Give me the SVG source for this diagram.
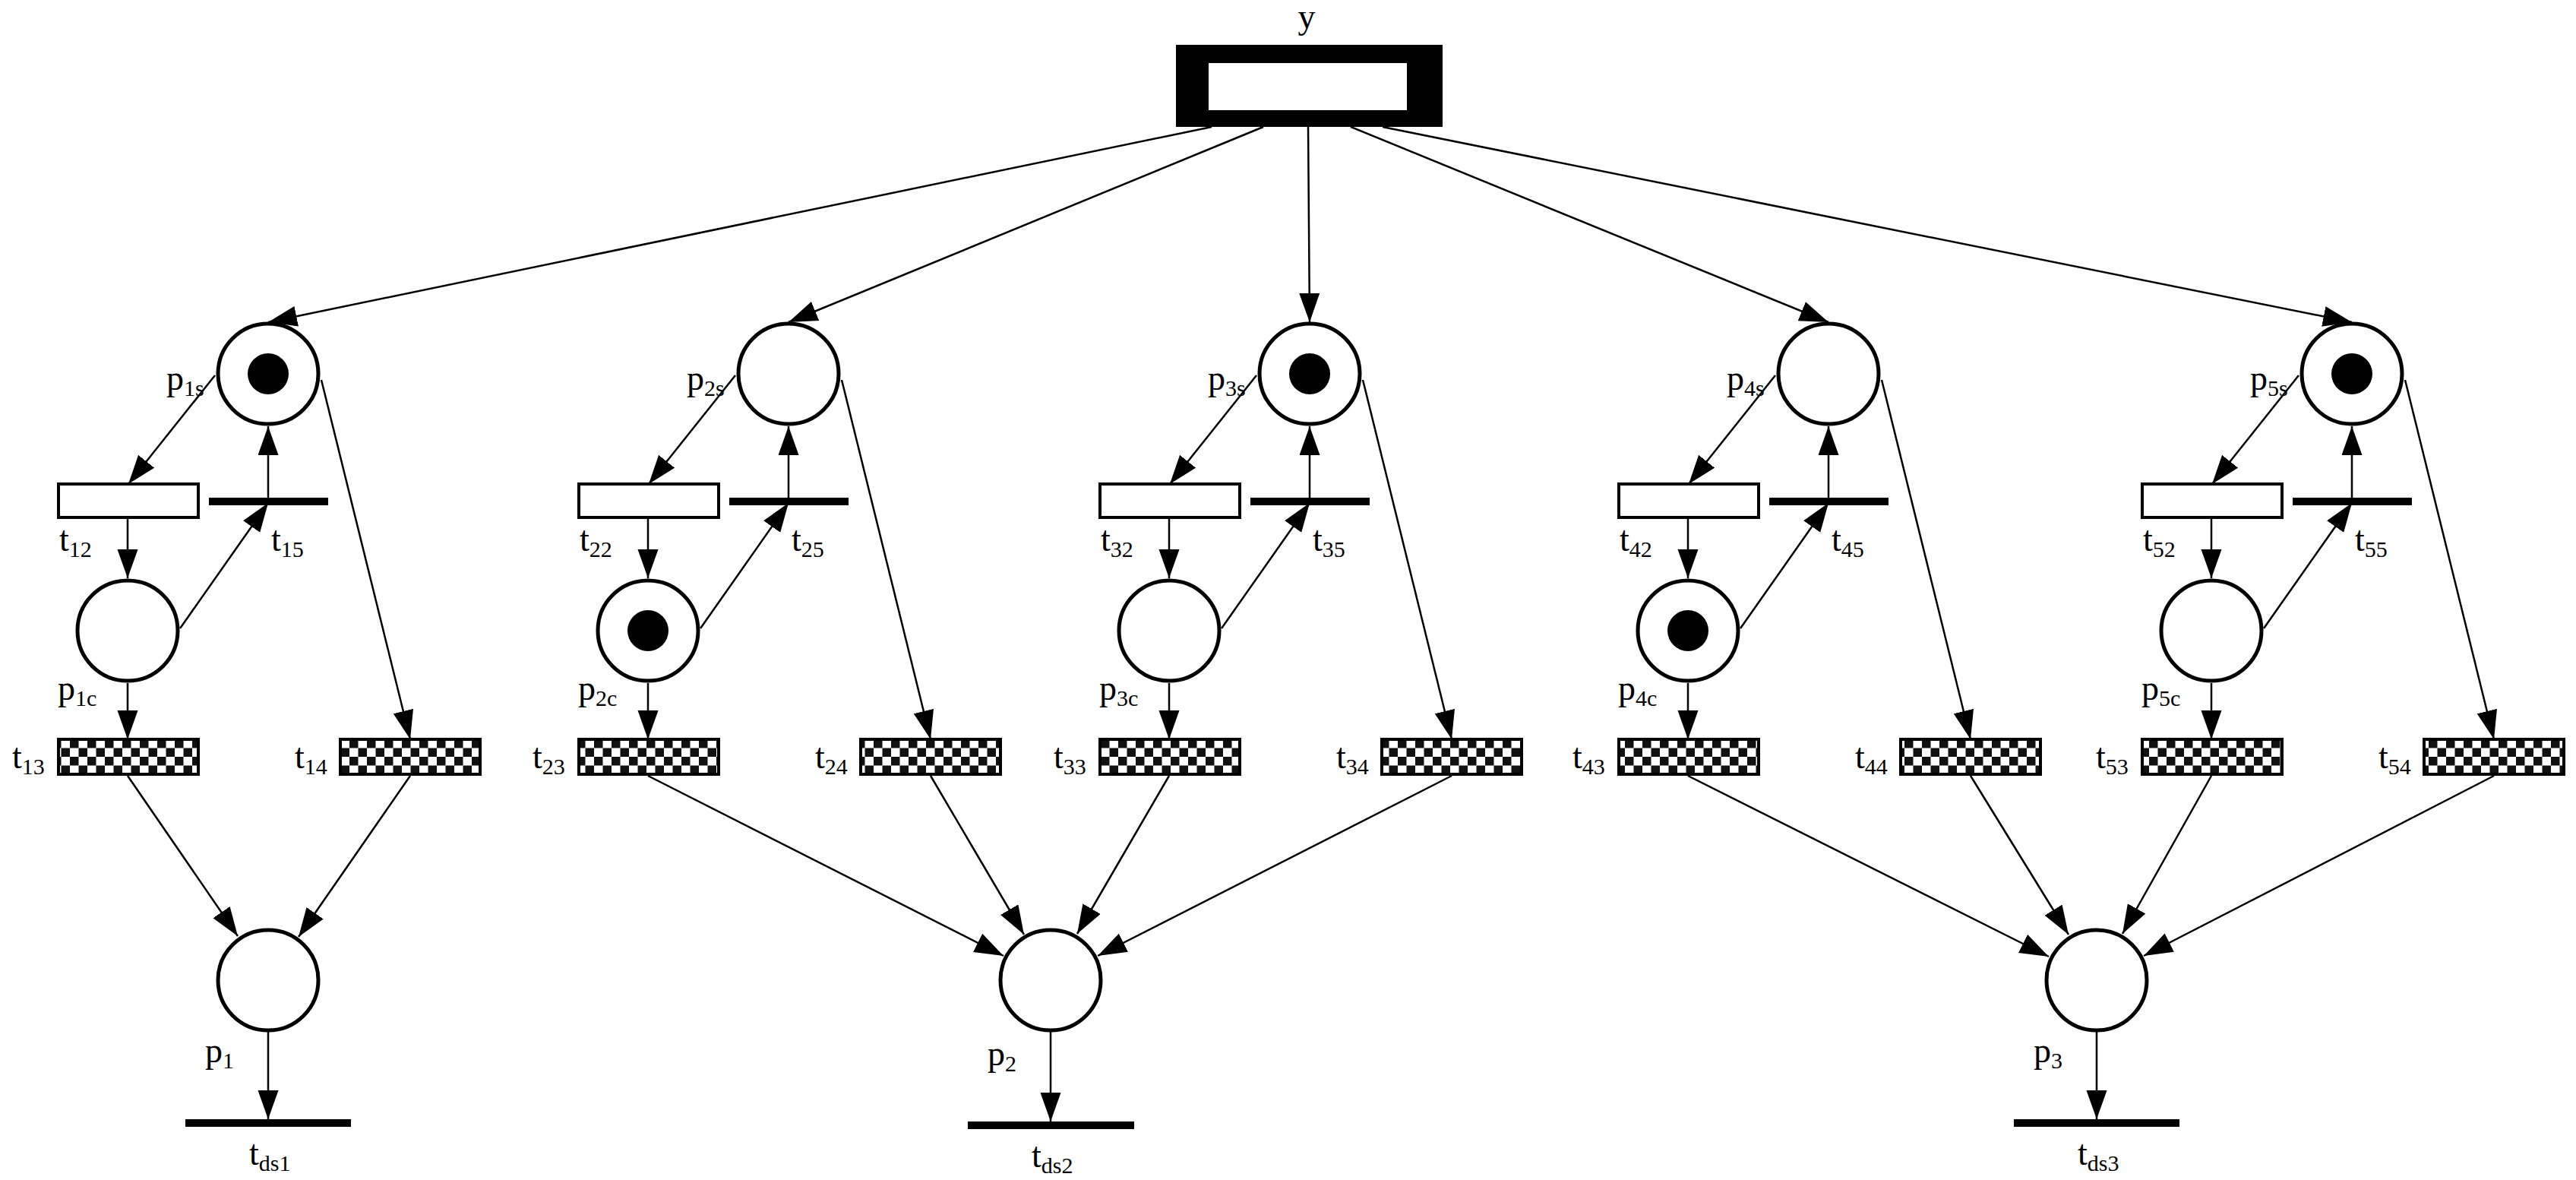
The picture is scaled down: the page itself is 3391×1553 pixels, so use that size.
<svg xmlns="http://www.w3.org/2000/svg" width="3391" height="1553" viewBox="0 0 3391 1553">
<style>
.pl{fill:#fff;stroke:#000;stroke-width:5}
.tk{fill:#000}
.tr{fill:#fff;stroke:#000;stroke-width:4}
.ck{fill:url(#chk);stroke:#000;stroke-width:4}
.bar{fill:#000}
.arc{stroke:#000;stroke-width:2.5;fill:none;marker-end:url(#ah)}
text{font-family:"Liberation Serif","Times New Roman",serif;font-size:46px;fill:#000}
.s{font-size:30px}
</style>
<defs>
<marker id="ah" markerUnits="userSpaceOnUse" markerWidth="40" markerHeight="28" refX="38" refY="13.5" orient="auto"><path d="M0,0 L38,13.5 L0,27 z" fill="#000"/></marker>
<pattern id="chk" patternUnits="userSpaceOnUse" width="23" height="23" x="0" y="973"><rect width="23" height="23" fill="#fff"/><rect width="11.5" height="11.5" fill="#111"/><rect x="11.5" y="11.5" width="11.5" height="11.5" fill="#111"/></pattern>
</defs>
<g id="connectors">
<line class="arc" x1="1595" y1="167" x2="353" y2="424"/>
<line class="arc" x1="1663" y1="167" x2="1038" y2="424"/>
<line class="arc" x1="1722" y1="167" x2="1724" y2="424"/>
<line class="arc" x1="1778" y1="167" x2="2407" y2="424"/>
<line class="arc" x1="1820" y1="167" x2="3096" y2="424"/>
<!-- column arcs -->
<line class="arc" x1="283" y1="494" x2="169" y2="637"/><line class="arc" x1="353" y1="657" x2="353" y2="561"/><line class="arc" x1="168" y1="681" x2="168" y2="761"/><line class="arc" x1="237" y1="827" x2="353" y2="662"/><line class="arc" x1="168" y1="899" x2="168" y2="973"/><line class="arc" x1="423" y1="500" x2="540" y2="973"/>
<line class="arc" x1="968" y1="494" x2="854" y2="637"/><line class="arc" x1="1038" y1="657" x2="1038" y2="561"/><line class="arc" x1="853" y1="681" x2="853" y2="761"/><line class="arc" x1="922" y1="827" x2="1038" y2="662"/><line class="arc" x1="853" y1="899" x2="853" y2="973"/><line class="arc" x1="1108" y1="500" x2="1225" y2="973"/>
<line class="arc" x1="1654" y1="494" x2="1540" y2="637"/><line class="arc" x1="1724" y1="657" x2="1724" y2="561"/><line class="arc" x1="1539" y1="681" x2="1539" y2="761"/><line class="arc" x1="1608" y1="827" x2="1724" y2="662"/><line class="arc" x1="1539" y1="899" x2="1539" y2="973"/><line class="arc" x1="1794" y1="500" x2="1911" y2="973"/>
<line class="arc" x1="2337" y1="494" x2="2223" y2="637"/><line class="arc" x1="2407" y1="657" x2="2407" y2="561"/><line class="arc" x1="2222" y1="681" x2="2222" y2="761"/><line class="arc" x1="2291" y1="827" x2="2407" y2="662"/><line class="arc" x1="2222" y1="899" x2="2222" y2="973"/><line class="arc" x1="2477" y1="500" x2="2594" y2="973"/>
<line class="arc" x1="3026" y1="494" x2="2912" y2="637"/><line class="arc" x1="3096" y1="657" x2="3096" y2="561"/><line class="arc" x1="2911" y1="681" x2="2911" y2="761"/><line class="arc" x1="2980" y1="827" x2="3096" y2="662"/><line class="arc" x1="2911" y1="899" x2="2911" y2="973"/><line class="arc" x1="3166" y1="500" x2="3283" y2="973"/>
<!-- to bottom places -->
<line class="arc" x1="168" y1="1021" x2="313" y2="1232"/>
<line class="arc" x1="540" y1="1021" x2="393" y2="1233"/>
<line class="arc" x1="853" y1="1021" x2="1321" y2="1258"/>
<line class="arc" x1="1225" y1="1021" x2="1348" y2="1230"/>
<line class="arc" x1="1539" y1="1021" x2="1418" y2="1229"/>
<line class="arc" x1="1911" y1="1021" x2="1445" y2="1258"/>
<line class="arc" x1="2222" y1="1021" x2="2697" y2="1259"/>
<line class="arc" x1="2594" y1="1021" x2="2723" y2="1230"/>
<line class="arc" x1="2911" y1="1021" x2="2794" y2="1229"/>
<line class="arc" x1="3283" y1="1021" x2="2822" y2="1258"/>
<line class="arc" x1="353" y1="1358" x2="353" y2="1473"/>
<line class="arc" x1="1383" y1="1358" x2="1383" y2="1476"/>
<line class="arc" x1="2760" y1="1358" x2="2760" y2="1473"/>
</g>
<g id="y"><rect x="1548" y="59" width="351" height="108" fill="#000"/><rect x="1591" y="83" width="261" height="62" fill="#fff"/><text x="1720" y="37" text-anchor="middle">y</text></g>
<!-- column 1 -->
<g id="p1s"><circle class="pl" cx="353" cy="492" r="66"/><circle class="tk" cx="353" cy="492" r="27"/><text x="219" y="513">p<tspan class="s" dy="8">1s</tspan></text></g>
<g id="t12"><rect class="tr" x="77" y="637" width="184" height="44"/><text x="78" y="725">t<tspan class="s" dy="8">12</tspan></text></g>
<g id="t15"><rect class="bar" x="275" y="655" width="157" height="10"/><text x="357" y="725">t<tspan class="s" dy="8">15</tspan></text></g>
<g id="p1c"><circle class="pl" cx="168" cy="830" r="66"/><text x="76" y="921">p<tspan class="s" dy="8">1c</tspan></text></g>
<g id="t13"><rect class="ck" x="77" y="973" width="184" height="46"/><text x="16" y="1011">t<tspan class="s" dy="8">13</tspan></text></g>
<g id="t14"><rect class="ck" x="448" y="973" width="184" height="46"/><text x="388" y="1011">t<tspan class="s" dy="8">14</tspan></text></g>
<!-- column 2 -->
<g id="p2s"><circle class="pl" cx="1038" cy="492" r="66"/><text x="904" y="513">p<tspan class="s" dy="8">2s</tspan></text></g>
<g id="t22"><rect class="tr" x="762" y="637" width="184" height="44"/><text x="763" y="725">t<tspan class="s" dy="8">22</tspan></text></g>
<g id="t25"><rect class="bar" x="960" y="655" width="157" height="10"/><text x="1042" y="725">t<tspan class="s" dy="8">25</tspan></text></g>
<g id="p2c"><circle class="pl" cx="853" cy="830" r="66"/><circle class="tk" cx="853" cy="830" r="27"/><text x="761" y="921">p<tspan class="s" dy="8">2c</tspan></text></g>
<g id="t23"><rect class="ck" x="762" y="973" width="184" height="46"/><text x="701" y="1011">t<tspan class="s" dy="8">23</tspan></text></g>
<g id="t24"><rect class="ck" x="1133" y="973" width="184" height="46"/><text x="1073" y="1011">t<tspan class="s" dy="8">24</tspan></text></g>
<!-- column 3 -->
<g id="p3s"><circle class="pl" cx="1724" cy="492" r="66"/><circle class="tk" cx="1724" cy="492" r="27"/><text x="1590" y="513">p<tspan class="s" dy="8">3s</tspan></text></g>
<g id="t32"><rect class="tr" x="1448" y="637" width="184" height="44"/><text x="1449" y="725">t<tspan class="s" dy="8">32</tspan></text></g>
<g id="t35"><rect class="bar" x="1646" y="655" width="157" height="10"/><text x="1728" y="725">t<tspan class="s" dy="8">35</tspan></text></g>
<g id="p3c"><circle class="pl" cx="1539" cy="830" r="66"/><text x="1447" y="921">p<tspan class="s" dy="8">3c</tspan></text></g>
<g id="t33"><rect class="ck" x="1448" y="973" width="184" height="46"/><text x="1387" y="1011">t<tspan class="s" dy="8">33</tspan></text></g>
<g id="t34"><rect class="ck" x="1819" y="973" width="184" height="46"/><text x="1759" y="1011">t<tspan class="s" dy="8">34</tspan></text></g>
<!-- column 4 -->
<g id="p4s"><circle class="pl" cx="2407" cy="492" r="66"/><text x="2273" y="513">p<tspan class="s" dy="8">4s</tspan></text></g>
<g id="t42"><rect class="tr" x="2131" y="637" width="184" height="44"/><text x="2132" y="725">t<tspan class="s" dy="8">42</tspan></text></g>
<g id="t45"><rect class="bar" x="2329" y="655" width="157" height="10"/><text x="2411" y="725">t<tspan class="s" dy="8">45</tspan></text></g>
<g id="p4c"><circle class="pl" cx="2222" cy="830" r="66"/><circle class="tk" cx="2222" cy="830" r="27"/><text x="2130" y="921">p<tspan class="s" dy="8">4c</tspan></text></g>
<g id="t43"><rect class="ck" x="2131" y="973" width="184" height="46"/><text x="2070" y="1011">t<tspan class="s" dy="8">43</tspan></text></g>
<g id="t44"><rect class="ck" x="2502" y="973" width="184" height="46"/><text x="2442" y="1011">t<tspan class="s" dy="8">44</tspan></text></g>
<!-- column 5 -->
<g id="p5s"><circle class="pl" cx="3096" cy="492" r="66"/><circle class="tk" cx="3096" cy="492" r="27"/><text x="2962" y="513">p<tspan class="s" dy="8">5s</tspan></text></g>
<g id="t52"><rect class="tr" x="2820" y="637" width="184" height="44"/><text x="2821" y="725">t<tspan class="s" dy="8">52</tspan></text></g>
<g id="t55"><rect class="bar" x="3018" y="655" width="157" height="10"/><text x="3100" y="725">t<tspan class="s" dy="8">55</tspan></text></g>
<g id="p5c"><circle class="pl" cx="2911" cy="830" r="66"/><text x="2819" y="921">p<tspan class="s" dy="8">5c</tspan></text></g>
<g id="t53"><rect class="ck" x="2820" y="973" width="184" height="46"/><text x="2759" y="1011">t<tspan class="s" dy="8">53</tspan></text></g>
<g id="t54"><rect class="ck" x="3191" y="973" width="184" height="46"/><text x="3131" y="1011">t<tspan class="s" dy="8">54</tspan></text></g>
<!-- bottom -->
<g id="p1"><circle class="pl" cx="353" cy="1290" r="66"/><text x="270" y="1398">p<tspan class="s" dy="8">1</tspan></text></g>
<g id="tds1"><rect class="bar" x="244" y="1473" width="218" height="10"/><text x="328" y="1533">t<tspan class="s" dy="8">ds1</tspan></text></g>
<g id="p2"><circle class="pl" cx="1383" cy="1290" r="66"/><text x="1300" y="1402">p<tspan class="s" dy="8">2</tspan></text></g>
<g id="tds2"><rect class="bar" x="1274" y="1476" width="219" height="10"/><text x="1358" y="1536">t<tspan class="s" dy="8">ds2</tspan></text></g>
<g id="p3"><circle class="pl" cx="2760" cy="1290" r="66"/><text x="2677" y="1398">p<tspan class="s" dy="8">3</tspan></text></g>
<g id="tds3"><rect class="bar" x="2651" y="1473" width="218" height="10"/><text x="2735" y="1533">t<tspan class="s" dy="8">ds3</tspan></text></g>
</svg>
